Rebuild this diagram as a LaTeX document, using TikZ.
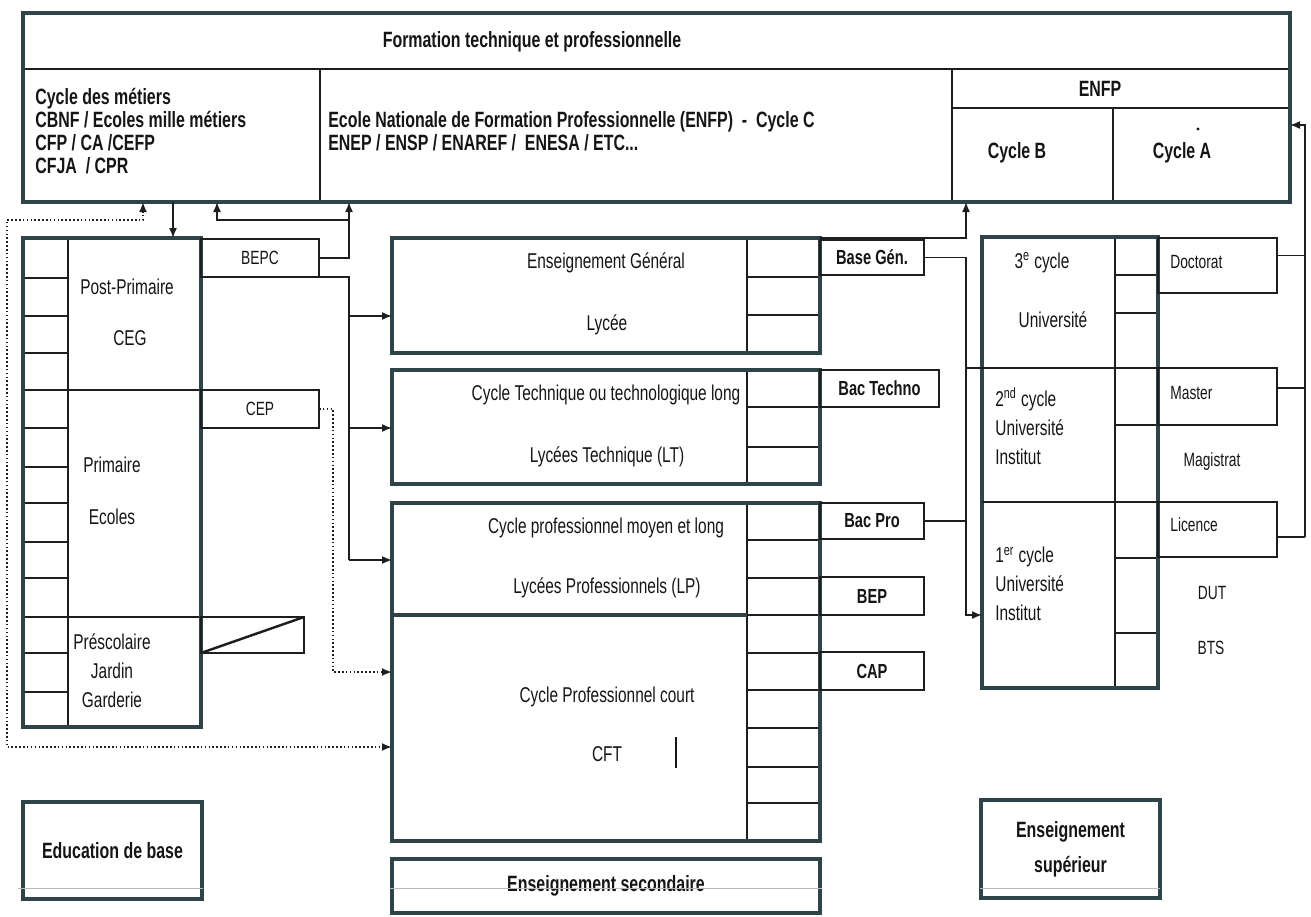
\documentclass[tikz,border=0pt]{standalone}
\usepackage{fontspec}
\setmainfont{Liberation Sans}[FakeStretch=0.72]
\usetikzlibrary{arrows.meta}
\definecolor{framec}{HTML}{2E4448}
\definecolor{linec}{HTML}{1E1E1E}
\definecolor{inkc}{HTML}{151515}
\tikzset{
  frmbox/.style={draw=framec, line width=2.4pt, inner sep=0pt, outer sep=0pt, anchor=north west},
  cell/.style={draw=linec, line width=0.9pt, inner sep=0pt, outer sep=0pt, anchor=north west},
  dims/.style 2 args={minimum width=#1*0.02cm, minimum height=#2*0.02cm},
  frm/.style={draw=framec, line width=2.4pt},
  conn/.style={draw=linec, line width=0.9pt},
  arr/.style={conn, -{Latex[length=2mm,width=1.6mm]}},
  dots/.style={conn, line width=1.1pt, dash pattern=on 0.9pt off 1.3pt},
  lbl/.style={text=inkc, inner sep=0pt, font=\fontsize{12.2}{14}\selectfont},
  lblb/.style={text=inkc, inner sep=0pt, font=\fontsize{12.6}{13.1}\selectfont\bfseries},
  sml/.style={text=inkc, inner sep=0pt, font=\fontsize{10.9}{12}\selectfont},
  smlb/.style={text=inkc, inner sep=0pt, font=\fontsize{11.6}{13}\selectfont\bfseries},
}
\begin{document}
\begin{tikzpicture}[x=0.02cm, y=-0.02cm]
  \useasboundingbox (0,0) rectangle (1311,916);

  % formation technique et professionnelle
  \draw[conn] (23,69) -- (1290,69);
  \draw[conn] (320,69) -- (320,202);
  \draw[conn] (952,69) -- (952,202);
  \draw[conn] (952,108) -- (1290,108);
  \draw[conn] (1113,108) -- (1113,202);
  \node[frmbox, dims={1267}{189}] (ftp) at (23,13) {};
  \node[lblb] (tftp) at (532,42) {Formation technique et professionnelle};
  \node[lblb, align=left, anchor=west] (tmet) at (35,131)
    {Cycle des métiers\\CBNF / Ecoles mille métiers\\CFP / CA /CEFP\\CFJA \ / CPR};
  \node[lblb, align=left, anchor=west] (tenfpc) at (328,131)
    {Ecole Nationale de Formation Professionnelle (ENFP) \ - \ Cycle C\\ENEP / ENSP / ENAREF / \ ENESA / ETC...};
  \node[lblb] (tenfp) at (1100,89) {ENFP};
  \node[lblb] (tcycb) at (1017,153) {Cycle B};
  \node[lblb] (tcyca) at (1182,153) {Cycle A};
  \fill[inkc] (1198,129) circle (0.9pt);

  % education de base
  \draw[conn] (68,238) -- (68,727);
  \draw[conn] (23,390) -- (201,390);
  \draw[conn] (23,617) -- (201,617);
  \foreach \y in {278,316,353,428,467,503,542,578,653,692} {
    \draw[conn] (23,\y) -- (68,\y);
  }
  \node[frmbox, dims={178}{489}] (ebase) at (23,238) {};
  \node[lbl] (tpostp) at (127,287) {Post-Primaire};
  \node[lbl] (tceg) at (130,338) {CEG};
  \node[lbl] (tprim) at (112,465) {Primaire};
  \node[lbl] (tecoles) at (112,517) {Ecoles};
  \node[lbl, align=center, font=\fontsize{12.2}{16.5}\selectfont] (tpresc) at (112,671)
    {Préscolaire\\Jardin\\Garderie};
  \node[cell, sml, dims={118}{38}] (bepc) at (201,239) {BEPC};
  \node[cell, sml, dims={118}{38}] (cep) at (201,390) {CEP};
  \node[cell, dims={103}{36}] (vide) at (201,617) {};
  \draw[conn, line width=1.4pt] (vide.south west) -- (vide.north east);

  % enseignement secondaire
  \foreach \ya/\yb in {238/353,370/484,503/841} {
    \draw[conn] (747,\ya) -- (747,\yb);
  }
  \foreach \y in {277,315,407,447,540,578,615,653,690,728,767,803} {
    \draw[conn] (747,\y) -- (820,\y);
  }
  \node[frmbox, dims={428}{115}] (lycee) at (392,238) {};
  \node[frmbox, dims={428}{114}] (ltech) at (392,370) {};
  \node[frmbox, dims={428}{338}] (lprof) at (392,503) {};
  \draw[frm] (392,615) -- (747,615);
  \node[lbl] (tgen) at (606,263) {Enseignement Général};
  \node[lbl] (tlycee) at (607,325) {Lycée};
  \node[lbl] (ttech) at (606,395) {Cycle Technique ou technologique long};
  \node[lbl] (tlt) at (607,457) {Lycées Technique (LT)};
  \node[lbl] (tprof) at (606,528) {Cycle professionnel moyen et long};
  \node[lbl] (tlp) at (607,588) {Lycées Professionnels (LP)};
  \node[lbl] (tcourt) at (607,697) {Cycle Professionnel court};
  \node[lbl] (tcft) at (607,754) {CFT};
  \draw[inkc, line width=1.6pt] (676,737) -- (676,768);
  \node[cell, smlb, dims={104}{35}] (basegen) at (820,240) {Base Gén.};
  \node[cell, smlb, dims={119}{37}] (bactech) at (820,370) {Bac Techno};
  \node[cell, smlb, dims={104}{36}] (bacpro) at (820,503) {Bac Pro};
  \node[cell, smlb, dims={104}{38}] (bep) at (820,577) {BEP};
  \node[cell, smlb, dims={104}{38}] (cap) at (820,652) {CAP};

  % enseignement superieur
  \draw[conn] (1115,237) -- (1115,688);
  \foreach \y in {275,313,425,558,633} {
    \draw[conn] (1115,\y) -- (1158,\y);
  }
  \node[frmbox, dims={176}{451}] (univ) at (982,237) {};
  \node[cell, sml, dims={119}{55}] (doct) at (1158,238) {};
  \node[cell, sml, dims={119}{57}] (master) at (1158,368) {};
  \node[cell, sml, dims={119}{55}] (licence) at (1158,502) {};
  \node[sml, anchor=west] (tdoct) at (1170,262) {Doctorat};
  \node[sml, anchor=west] (tmaster) at (1170,393) {Master};
  \node[sml, anchor=west] (tlicence) at (1170,525) {Licence};
  \node[sml] (tmagis) at (1212,462) {Magistrat};
  \node[sml] (tdut) at (1212,593) {DUT};
  \node[sml] (tbts) at (1211,648) {BTS};
  \node[lbl] (t3c) at (1042,263) {3\textsuperscript{e} cycle};
  \node[lbl] (tuniv) at (1053,320) {Université};
  \node[lbl, align=left, anchor=west, font=\fontsize{12.2}{16.5}\selectfont] (t2c) at (995,426)
    {2\textsuperscript{nd} cycle\\Université\\Institut};
  \node[lbl, align=left, anchor=west, font=\fontsize{12.2}{16.5}\selectfont] (t1c) at (995,584)
    {1\textsuperscript{er} cycle\\Université\\Institut};

  % bottom labels
  \node[frmbox, lblb, dims={179}{97}] (edu) at (23,802) {Education de base};
  \node[frmbox, lblb, dims={428}{54}] (sec) at (392,859) {Enseignement secondaire};
  \node[frmbox, lblb, align=center, font=\fontsize{12.6}{20}\selectfont\bfseries, dims={179}{98}] (sup) at (981,800)
    {Enseignement\\supérieur};
  \foreach \xa/\xb in {18/203,390/822,980/1160} {
    \draw[gray!55, line width=0.5pt] (\xa,888) -- (\xb,888);
  }

  % connectors
  \coordinate (bepcup) at (349,202);
  \coordinate (bepcj) at (349,220);
  \coordinate (metup) at (217,202);
  \coordinate (metdn) at (173,202);
  \coordinate (dotup) at (143,202);
  \coordinate (dotj) at (143,220);
  \coordinate (dotl) at (7,220);
  \coordinate (cftin) at (392,747);
  \coordinate (cftin2) at (392,672);
  \coordinate (cepj) at (333,409);
  \coordinate (jA) at (349,316);
  \coordinate (jB) at (349,428);
  \coordinate (jC) at (349,560);
  \coordinate (enfpup) at (966,202);
  \coordinate (jU) at (966,615);
  \coordinate (rbus) at (1305,537);
  \coordinate (rin) at (1290,125);

  \draw[arr] (bepc.east) -| (bepcup);
  \draw[arr] (bepcj) -| (metup);
  \draw[arr] (metdn) -- (metdn |- ebase.north);
  \draw[dots, {Latex[length=2mm,width=1.6mm]}-{Latex[length=2mm,width=1.6mm]}]
    (dotup) -- (dotj) -- (dotl) |- (cftin);
  \draw[dots, -{Latex[length=2mm,width=1.6mm]}] (cep.east) -- (cepj) |- (cftin2);
  \draw[conn] (bepc.south east) -| (jC);
  \draw[arr] (jA) -- (jA -| lycee.west);
  \draw[arr] (jB) -- (jB -| ltech.west);
  \draw[arr] (jC) -- (jC -| lprof.west);
  \draw[arr] (lycee.north east) -| (enfpup);
  \draw[arr] (basegen.east) -| (jU) -- (jU -| univ.west);
  \draw[conn] (bacpro.east) -- (bacpro.east -| jU);
  \draw[conn] (jU |- master.north) -- (master.north east);
  \draw[conn] (univ.west |- licence.north) -- (licence.north east);
  \draw[conn] ([yshift=0.2cm]doct.east) -- ([yshift=0.2cm]doct.east -| rbus);
  \draw[conn] ([yshift=0.17cm]master.east) -- ([yshift=0.17cm]master.east -| rbus);
  \draw[conn] ([yshift=-0.15cm]licence.east) -- (rbus);
  \draw[arr] (rbus) |- (rin);
\end{tikzpicture}
\end{document}
